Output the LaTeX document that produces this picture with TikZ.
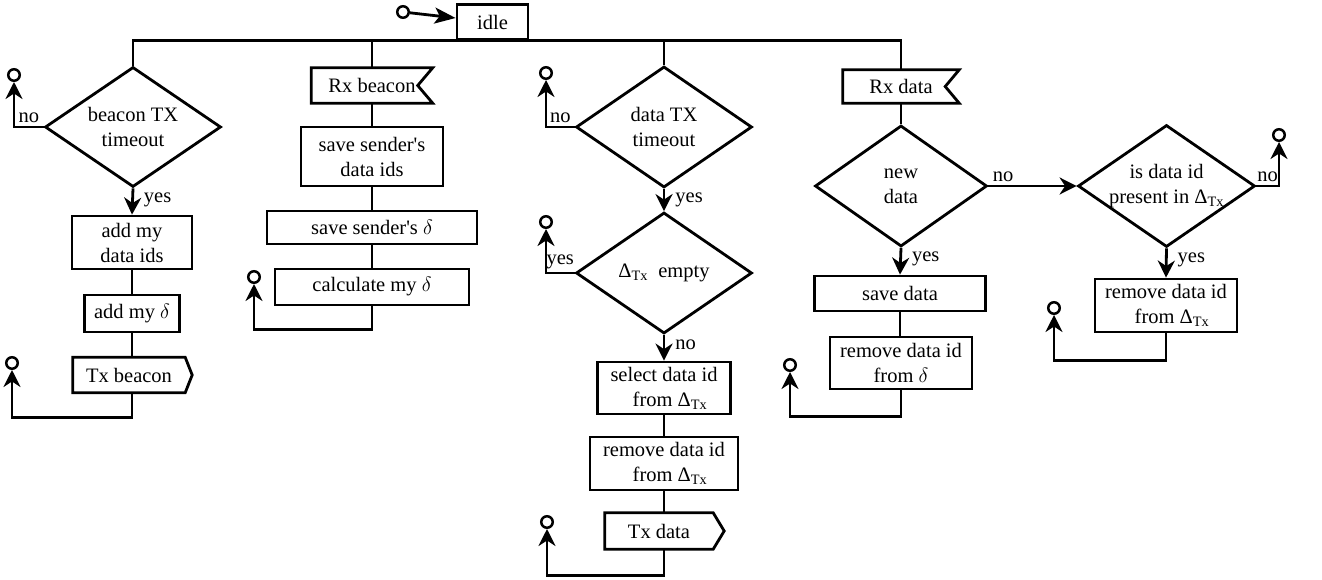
\documentclass[tikz,border=0pt]{standalone}
\usepackage{fontspec}
\setmainfont{Liberation Serif}
\usetikzlibrary{shapes.geometric,arrows.meta,calc}
\begin{document}
\begin{tikzpicture}[x=1pt,y=-1pt,
  every node/.style={font=\fontsize{20.5}{25}\selectfont},
  lw/.style={line width=2.8pt},
  box/.style={draw, lw, rectangle, inner sep=0pt, align=center},
  dia/.style={draw, lw, diamond, inner sep=0pt},
  flag/.style={rectangle, inner sep=0pt, align=center},
  term/.style={draw, circle, line width=2.5pt, fill=white, minimum size=11.5pt, inner sep=0pt},
  arr/.style={lw, -{Stealth[length=17pt,width=17pt,inset=5.5pt]}},
  lab/.style={inner sep=1pt}
]
\useasboundingbox (0,0) rectangle (1322,580);

% start
\node[box, minimum width=71pt, minimum height=35pt] (idle) at (492.5,22) {idle};
\node[term] (c0) at (403,12) {};
\draw[lw, -{Stealth[length=21pt,width=16pt,inset=5pt]}] (c0) -- ([yshift=4pt]idle.west);

% ---------- column 1 ----------
\node[dia, minimum width=176pt, minimum height=120pt,
      label={[align=center]center:beacon TX\\timeout}] (d1) at (133,127) {};
\node[box, minimum width=120pt, minimum height=53pt] (b1) at (132,242.5) {add my\\data ids};
\node[box, minimum width=95pt, minimum height=37pt] (b2) at (132,313.5) {add my $\delta$};
\node[flag, minimum width=112pt, minimum height=35pt] (tx1) at (129,375) {Tx beacon};
\draw[lw] (tx1.north west) -- (tx1.north east) -- ([xshift=7pt]tx1.east) -- (tx1.south east) -- (tx1.south west) -- cycle;
\node[term] (t0) at (14,75) {};
\node[term] (t1) at (12,363) {};
\draw[arr] (d1.west) -| node[pos=0.25, above=2pt, lab]{no} (t0);
\draw[arr] (d1.south) -- node[pos=0.42, right=9pt, lab]{yes} (b1.north);
\draw[lw] (b1.south) -- (b2.north);
\draw[lw] (b2.south) -- (b2.south |- tx1.north);
\draw[arr] (tx1.south -| b2.south) -- ++(0,25) -| (t1);

% ---------- column 2 ----------
\node[flag, minimum width=121pt, minimum height=35pt] (rxb) at (372,85.5) {Rx beacon};
\draw[lw] (rxb.north west) -- (rxb.north east) -- ([xshift=-15pt]rxb.east) -- (rxb.south east) -- (rxb.south west) -- cycle;
\node[box, minimum width=142pt, minimum height=59pt] (sb1) at (372,156.5) {save sender\textquotesingle s\\data ids};
\node[box, minimum width=210pt, minimum height=33pt] (sb2) at (372,227.5) {save sender\textquotesingle s $\delta$};
\node[box, minimum width=194pt, minimum height=36pt] (sb3) at (372,287) {calculate my $\delta$};
\node[term] (t2) at (254,277) {};
\draw[lw] (rxb.south) -- (sb1.north);
\draw[lw] (sb1.south) -- (sb2.north);
\draw[lw] (sb2.south) -- (sb3.north);
\draw[arr] (sb3.south) -- ++(0,23) -| (t2);

% ---------- column 3 ----------
\node[dia, minimum width=176pt, minimum height=121pt,
      label={[align=center]center:data TX\\timeout}] (d3) at (664,127) {};
\node[dia, minimum width=176pt, minimum height=121pt,
      label={[align=center]center:Δ\textsubscript{Tx}\ \ empty}] (d4) at (664,273) {};
\node[box, minimum width=133pt, minimum height=52pt] (sel) at (664,388) {select data id\\\hspace*{12pt}from Δ\textsubscript{Tx}};
\node[box, minimum width=148pt, minimum height=53pt] (rem1) at (664,463.5) {remove data id\\\hspace*{12pt}from Δ\textsubscript{Tx}};
\node[flag, minimum width=108pt, minimum height=36pt] (txd) at (659,531) {Tx data};
\draw[lw] (txd.north west) -- (txd.north east) -- ([xshift=11pt]txd.east) -- (txd.south east) -- (txd.south west) -- cycle;
\node[term] (t3) at (546,73) {};
\node[term] (t4) at (546,222) {};
\node[term] (t5) at (547,522) {};
\draw[arr] (d3.west) -| node[pos=0.25, above=2pt, lab]{no} (t3);
\draw[arr] (d3.south) -- node[pos=0.5, right=9pt, lab]{yes} (d4.north);
\draw[arr] (d4.west) -| node[pos=0.25, above=2pt, lab]{yes} (t4);
\draw[arr] (d4.south) -- node[pos=0.4, right=9pt, lab]{no} (sel.north);
\draw[lw] (sel.south) -- (rem1.north);
\draw[lw] (rem1.south) -- (rem1.south |- txd.north);
\draw[arr] (txd.south -| rem1.south) -- ++(0,26) -| (t5);

% ---------- column 4 ----------
\node[flag, minimum width=116pt, minimum height=33pt] (rxd) at (901,86.5) {Rx data};
\draw[lw] (rxd.north west) -- (rxd.north east) -- ([xshift=-14pt]rxd.east) -- (rxd.south east) -- (rxd.south west) -- cycle;
\node[dia, minimum width=172pt, minimum height=121pt,
      label={[align=center]center:new\\data}] (d5) at (901,186) {};
\node[dia, minimum width=177pt, minimum height=122pt,
      label={[align=center]center:is data id\\present in Δ\textsubscript{Tx}}] (d6) at (1166.5,186) {};
\node[box, minimum width=171pt, minimum height=35pt] (sd) at (900,293.5) {save data};
\node[box, minimum width=142pt, minimum height=52pt] (rem2) at (901,363) {remove data id\\from $\delta$};
\node[box, minimum width=142pt, minimum height=53pt] (rem3) at (1166,305.5) {remove data id\\\hspace*{12pt}from Δ\textsubscript{Tx}};
\node[term] (t6) at (1279,135) {};
\node[term] (t7) at (790,365) {};
\node[term] (t8) at (1054,308) {};
\draw[lw] (rxd.south) -- (d5.north);
\draw[arr] (d5.east) -- node[pos=0, above right=2pt, lab]{no} (d6.west);
\draw[arr] (d6.east) -| node[pos=0.25, above=2pt, lab]{no} (t6);
\draw[arr] (d5.south) -- node[pos=0.4, right=9pt, lab]{yes} (sd.north);
\draw[lw] (sd.south) -- (sd.south |- rem2.north);
\draw[arr] (rem2.south) -- ++(0,26) -| (t7);
\draw[arr] (d6.south) -- node[pos=0.4, right=9pt, lab]{yes} (rem3.north);
\draw[arr] (rem3.south) -- ++(0,27) -| (t8);

% bus
\draw[lw] (d1.north) |- (rxd.north |- idle.south) -- (rxd.north);
\draw[lw] (rxb.north) -- (rxb.north |- idle.south);
\draw[lw] (d3.north) -- (d3.north |- idle.south);
\end{tikzpicture}
\end{document}
